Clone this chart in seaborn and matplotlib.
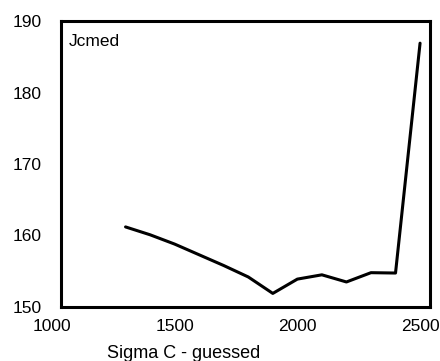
import matplotlib
matplotlib.use("Agg")
import matplotlib.pyplot as plt
import seaborn as sns
import pandas as pd

# Sigma C guesses and the resulting Jcmed values
sigma_c = [1300, 1400, 1500, 1600, 1700, 1800, 1900, 2000, 2100, 2200, 2300, 2400, 2500]
jcmed = [161.2, 160.1, 158.8, 157.3, 155.8, 154.2, 151.9, 153.9, 154.5, 153.5, 154.8, 154.75, 186.9]

x_ticks = [1000, 1500, 2000, 2500]
y_ticks = [150, 160, 170, 180, 190]

sns.set_theme(style="white")
plt.rcParams["font.family"] = ["Liberation Sans", "DejaVu Sans"]

df = pd.DataFrame({"Sigma C - guessed": sigma_c, "Jcmed": jcmed})

fig = plt.figure(figsize=(4.4, 3.61), dpi=100)
ax = fig.add_axes([0.118, 0.1496, 0.859, 0.7922])

sns.lineplot(data=df, x="Sigma C - guessed", y="Jcmed", color="black",
             linewidth=2.2, ax=ax)

x_lo, x_hi = 1000, 2540
frame_left = 1037
ax.set_xlim(x_lo, x_hi)
ax.set_ylim(150, 190)
ax.set_xticks(x_ticks)
ax.set_yticks(y_ticks)

# frame drawn slightly inside the left data limit
for side in ["left", "right", "top", "bottom"]:
    ax.spines[side].set_visible(True)
    ax.spines[side].set_color("black")
    ax.spines[side].set_linewidth(2.2)
ax.spines["left"].set_position(("data", frame_left))
ax.spines["top"].set_bounds(frame_left, x_hi)
ax.spines["bottom"].set_bounds(frame_left, x_hi)

ax.tick_params(axis="y", length=0, pad=14, labelsize=12.5, colors="black")
ax.tick_params(axis="x", length=0, pad=9, labelsize=12.5, colors="black")

ax.set_ylabel("")
ax.set_xlabel("Sigma C - guessed", fontsize=13, color="black")
ax.xaxis.set_label_coords(0.349, -0.133)

ax.text(0.045, 0.9126, "Jcmed", transform=ax.transAxes, fontsize=12.5,
        ha="left", va="baseline", color="black")

fig.savefig("out.png", dpi=100)
